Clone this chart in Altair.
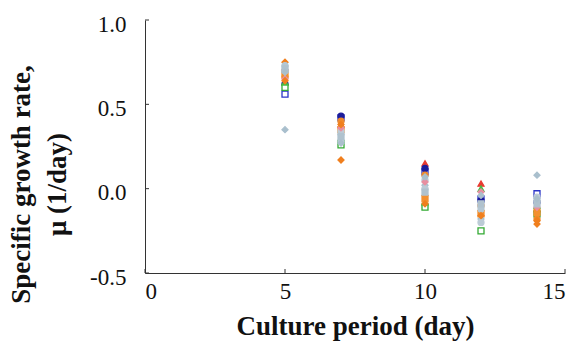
import altair as alt
import pandas as pd

days = [5, 7, 10, 12, 14]

series_names = ["blue_sq", "red_tri", "navy_circ", "green_sq", "green_tri", "orange_dia",
                "orange_circ", "orange_sq", "grey_dia", "grey_circ", "grey_circ2", "pink_cross",
                "grey_sq", "orange_dia2", "grey_dia2"]
series_vals = {
    "blue_sq":     [0.56, 0.42, 0.10, -0.06, -0.03],
    "red_tri":     [0.72, 0.38, 0.15, 0.03, -0.12],
    "navy_circ":   [0.62, 0.43, 0.12, -0.07, -0.08],
    "green_sq":    [0.60, 0.26, -0.11, -0.25, -0.15],
    "green_tri":   [0.63, 0.30, -0.08, 0.00, -0.10],
    "orange_dia":  [0.75, 0.17, -0.04, -0.13, -0.21],
    "orange_circ": [0.66, 0.40, 0.08, -0.10, -0.18],
    "orange_sq":   [0.68, 0.35, -0.06, -0.15, -0.14],
    "grey_dia":    [0.35, 0.32, 0.02, -0.18, 0.08],
    "grey_circ":   [0.73, 0.28, 0.05, -0.12, -0.07],
    "grey_circ2":  [0.70, 0.34, 0.00, -0.20, -0.05],
    "pink_cross":  [0.65, 0.36, 0.04, -0.02, -0.11],
    "grey_sq":     [0.71, 0.31, -0.02, -0.09, -0.09],
    "orange_dia2": [0.64, 0.38, -0.09, -0.16, -0.19],
    "grey_dia2":   [0.69, 0.27, 0.07, -0.04, -0.06],
}
stroke_colors = ["#2a35c8", "#e83a30", "#1c1c9a", "#33aa33", "#44bb44", "#f07f1e",
                 "#f08a2a", "#f39030", "#a9bfcd", "#b5c7d3", "#bccbd6", "#e88fa0",
                 "#b0c2ce", "#f07f1e", "#aabfcc"]
fill_colors = ["white", "#e83a30", "#1c1c9a", "white", "#44bb44", "#f07f1e",
               "#f08a2a", "#f39030", "#a9bfcd", "#b5c7d3", "#bccbd6", "#e88fa0",
               "#b0c2ce", "#f07f1e", "#aabfcc"]
shapes = ["square", "triangle-up", "circle", "square", "triangle-up", "diamond",
          "circle", "square", "diamond", "circle", "circle", "diamond",
          "square", "diamond", "diamond"]

y_ticks = [-0.5, 0.0, 0.5, 1.0]
x_ticks = [0, 5, 10, 15]

rows = []
for name in series_names:
    for d, v in zip(days, series_vals[name]):
        rows.append({"day": d, "mu": v, "series": name})
df = pd.DataFrame(rows)

font = "Liberation Serif"

xs = alt.Scale(domain=[0, 15], nice=False)
ys = alt.Scale(domain=[-0.5, 1.0], nice=False)

points = alt.Chart(df).mark_point(filled=True, size=36, strokeWidth=1.3, opacity=1).encode(
    x=alt.X("day:Q", scale=xs,
            axis=alt.Axis(values=x_ticks, title="Culture period (day)", format="d",
                          ticks=False, labelPadding=7, titlePadding=10, grid=False)),
    y=alt.Y("mu:Q", scale=ys,
            axis=alt.Axis(values=y_ticks, title=["Specific growth rate,", "μ (1/day)"], format=".1f",
                          labelExpr="replace(datum.label, '\u2212', '-')",
                          ticks=False, labelPadding=19, labelOffset=4, titlePadding=18,
                          titleY=164, grid=False)),
    fill=alt.Fill("series:N", scale=alt.Scale(domain=series_names, range=fill_colors), legend=None),
    stroke=alt.Stroke("series:N", scale=alt.Scale(domain=series_names, range=stroke_colors), legend=None),
    shape=alt.Shape("series:N", scale=alt.Scale(domain=series_names, range=shapes), legend=None),
)

ytick_df = pd.DataFrame({"v": y_ticks})
xtick_df = pd.DataFrame({"v": x_ticks})

yticks = alt.Chart(ytick_df).mark_rule(color="#333", strokeWidth=1).encode(
    y=alt.Y("v:Q", scale=ys), x=alt.value(0), x2=alt.value(4))
xticks = alt.Chart(xtick_df).mark_rule(color="#333", strokeWidth=1).encode(
    x=alt.X("v:Q", scale=xs), y=alt.value(253), y2=alt.value(249))

chart = alt.layer(points, yticks, xticks).properties(
    width=420, height=253,
    autosize=alt.AutoSizeParams(type="none"),
    padding={"left": 145, "top": 20, "right": 14, "bottom": 76},
).configure_view(stroke=None).configure_axis(
    domainColor="#333", domainWidth=1,
    labelFont=font, labelFontSize=23, labelColor="#111",
    titleFont=font, titleFontSize=27, titleFontWeight="bold", titleColor="#111",
    titleLineHeight=36,
)

chart.save("out.html", embed_options={"renderer": "svg", "actions": False})
